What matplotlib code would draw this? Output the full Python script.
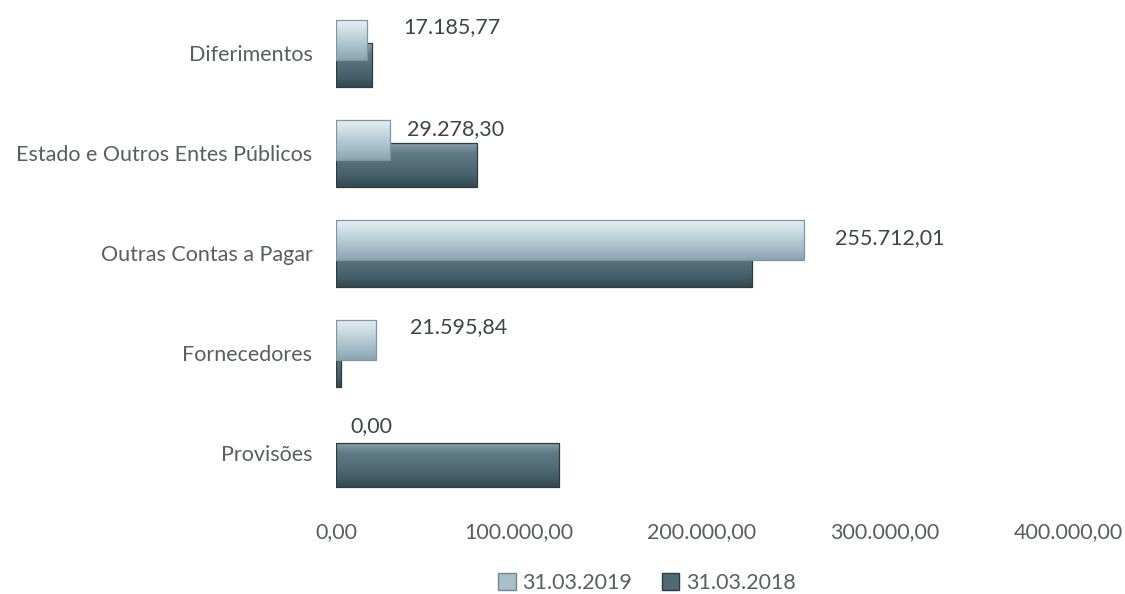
import numpy as np
import matplotlib
matplotlib.use('Agg')
import matplotlib.pyplot as plt
from matplotlib.patches import Patch
from matplotlib.colors import LinearSegmentedColormap
from matplotlib.ticker import FuncFormatter

# Chart data
categories = ['Diferimentos', 'Estado e Outros Entes Públicos', 'Outras Contas a Pagar',
              'Fornecedores', 'Provisões']
values_2019 = [17185.77, 29278.30, 255712.01, 21595.84, 0.00]
values_2018 = [19700, 77000, 227300, 3000, 121850]
series_labels = ['31.03.2019', '31.03.2018']
x_ticks = [0, 100000, 200000, 300000, 400000]

# Value-label offsets (pixels) from the end of each 2019 bar, relative to the category centre
label_dx = [36, 17, 31, 34, 14]
label_dy = [26, 24, 15, 26, 27]


def pt_format(v, _pos=None):
    s = f'{v:,.2f}'
    return s.replace(',', '_').replace('.', ',').replace('_', '.')


plt.rcParams['font.family'] = ['Lato', 'DejaVu Sans']
FS = 15.5
TXT = '#5a5f5c'
LBL = '#3f4542'

fig = plt.figure(figsize=(11.25, 5.94), dpi=100)
ax = fig.add_axes([336 / 1125, 91 / 594, 732 / 1125, 500 / 594])

n = len(categories)
ypos = np.arange(n)[::-1]

light_cmap = LinearSegmentedColormap.from_list(
    'light', ['#8ba4af', '#a2bac5', '#b7ccd5', '#cfdee5', '#e6eef2'])
dark_cmap = LinearSegmentedColormap.from_list(
    'dark', ['#34494f', '#45606a', '#536e78', '#5e7a84', '#8aa3ad'])

dark = ax.barh(ypos - 0.12, values_2018, height=0.44, color='#4f6a74', zorder=2)
light = ax.barh(ypos + 0.13, values_2019, height=0.40, color='#a9c0ca', zorder=4)


def shade(bars, cmap, z, edge):
    grad = np.linspace(0, 1, 64).reshape(-1, 1)
    drawn = [b for b in bars if b.get_width() > 0]
    for b in drawn:
        x0, y0 = b.get_x(), b.get_y()
        w, h = b.get_width(), b.get_height()
        im = ax.imshow(grad, cmap=cmap, origin='lower', aspect='auto',
                       extent=[x0, x0 + w, y0, y0 + h], zorder=z + 0.1,
                       interpolation='bilinear')
        im.set_clip_path(b)
    ax.barh([b.get_y() + b.get_height() / 2 for b in drawn],
            [b.get_width() for b in drawn],
            height=drawn[0].get_height(), fill=False, edgecolor=edge,
            linewidth=0.9, zorder=z + 0.2)


shade(dark, dark_cmap, 2, '#2c3d42')
shade(light, light_cmap, 4, '#7d97a2')

for i, (v, y) in enumerate(zip(values_2019, ypos)):
    ax.annotate(pt_format(v), xy=(v, y), xytext=(label_dx[i], label_dy[i]),
                textcoords='offset pixels', ha='left', va='center',
                fontsize=FS, color=LBL, zorder=6)

ax.set_xlim(0, 400000)
ax.set_ylim(-0.5, n - 0.5)
ax.set_xticks(x_ticks)
ax.xaxis.set_major_formatter(FuncFormatter(pt_format))
ax.set_yticks(ypos)
ax.set_yticklabels(categories)
ax.tick_params(axis='both', length=0, labelsize=FS, labelcolor=TXT)
ax.tick_params(axis='x', pad=14)
ax.tick_params(axis='y', pad=17)
for s in ax.spines.values():
    s.set_visible(False)

handles = [Patch(facecolor='#a9c0ca', edgecolor='#6f8893'),
           Patch(facecolor='#4f6a74', edgecolor='#2c3d42')]
fig.legend(handles, series_labels, loc='center', bbox_to_anchor=(647 / 1125, 11 / 594),
           ncol=2, frameon=False, fontsize=FS, labelcolor=TXT,
           handlelength=0.8, handleheight=0.8, handletextpad=0.3, columnspacing=1.4)

fig.savefig('out.png', dpi=100, facecolor='white')
